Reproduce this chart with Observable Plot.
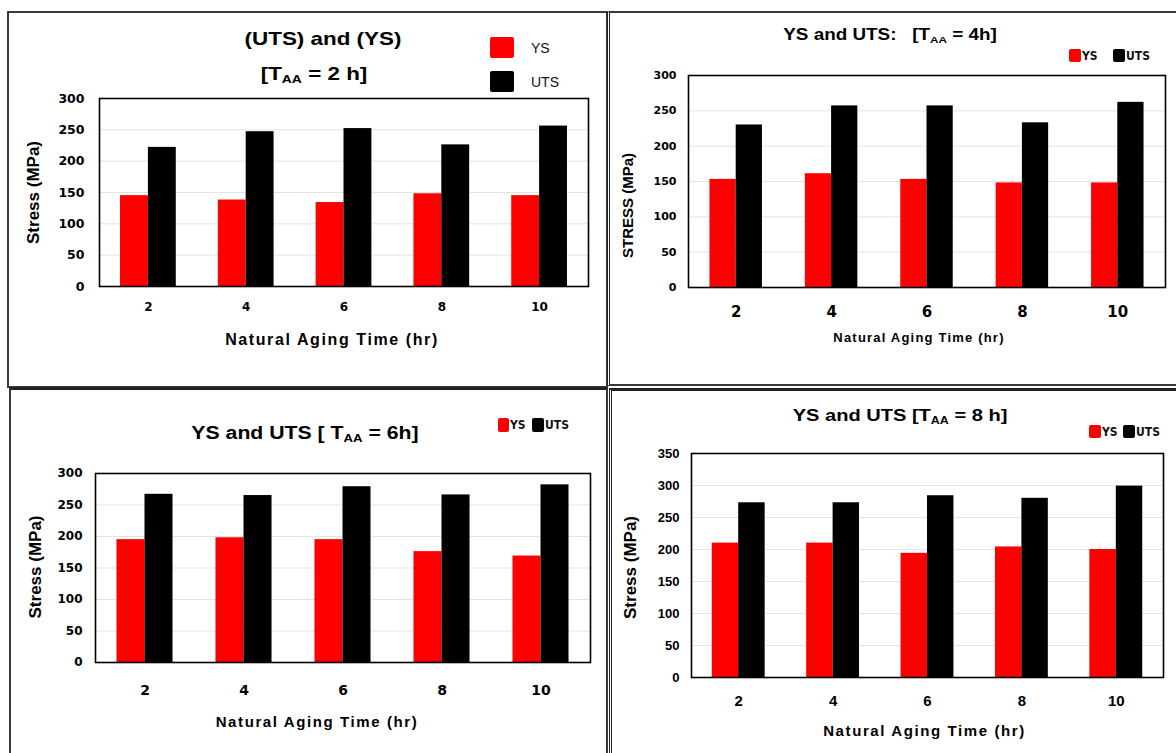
<!DOCTYPE html>
<html><head><meta charset="utf-8">
<script src="https://cdn.jsdelivr.net/npm/d3@7"></script>
<script src="https://cdn.jsdelivr.net/npm/@observablehq/plot@0.6"></script>
<style>
body{margin:0;background:#fff;}
#page{position:relative;width:1176px;height:753px;overflow:hidden;background:#fff;font-family:"Liberation Sans",Arial,sans-serif;color:#000;}
.panel{position:absolute;box-sizing:border-box;border:2px solid #3a3a3a;}
.title{position:absolute;font-weight:bold;white-space:nowrap;transform:translate(-50%,-50%) scaleX(1.18);line-height:1;}
.title sub{font-size:0.62em;vertical-align:-0.3em;line-height:0;}
.sw{position:absolute;}
.lt{position:absolute;white-space:nowrap;transform:translateY(-50%);line-height:1;}
.chart{position:absolute;overflow:visible;}
</style></head>
<body><div id="page"></div>
<script>
// ---- data ----
const times = ["2", "4", "6", "8", "10"];
const seriesNames = ["YS", "UTS"];
const ys2h  = [145, 138, 134, 148, 145];
const uts2h = [222, 247, 252, 226, 256];
const ys4h  = [153, 161, 153, 148, 148];
const uts4h = [230, 257, 257, 233, 262];
const ys6h  = [195, 198, 195, 176, 169];
const uts6h = [267, 265, 279, 266, 282];
const ys8h  = [210, 210, 194, 204, 200];
const uts8h = [273, 273, 284, 280, 299];
const ticks300 = [0, 50, 100, 150, 200, 250, 300];
const ticks350 = [0, 50, 100, 150, 200, 250, 300, 350];
const xLabel = "Natural Aging Time (hr)";

const page = document.getElementById("page");
const RED = "#ff0000", BLACK = "#000000";
const FONT = "Liberation Sans, Arial, sans-serif";
const WIDE = "DejaVu Sans, Liberation Sans, sans-serif";
const NARROW = '"Liberation Sans Narrow","DejaVu Sans Condensed","Liberation Sans",sans-serif';

function el(tag, cls, style, html) {
  const e = document.createElement(tag);
  if (cls) e.className = cls;
  Object.assign(e.style, style || {});
  if (html != null) e.innerHTML = html;
  page.appendChild(e);
  return e;
}

// panel borders
el("div", "panel", {left: "7px", top: "11px", width: "601px", height: "377px"});
el("div", "panel", {left: "607px", top: "11px", width: "600px", height: "375px", borderLeft: "3px double #222"});
el("div", "panel", {left: "9px", top: "387px", width: "599px", height: "400px", borderTop: "3px solid #222"});
el("div", "panel", {left: "609px", top: "388px", width: "600px", height: "400px", borderLeft: "3px double #222", borderTop: "3px solid #222"});

const panels = [
  {ys: ys2h, uts: uts2h, ticks: ticks300, yLabel: "Stress (MPa)",
   left: 8, top: 85, width: 598, height: 271, ml: 91, mr: 18, mt: 13, mb: 70, pad: 0.43,
   yFont: 12.5, yFam: WIDE, ytp: 15, xFont: 12, xFam: WIDE, xtp: 16, xlFont: 16, xlLs: 1.6, xlDx: -12, xlDy: 53, ylFont: 17, ylDx: -66, ylDy: 0},
  {ys: ys4h, uts: uts4h, ticks: ticks300, yLabel: "STRESS (MPa)",
   left: 608, top: 62, width: 568, height: 290, ml: 80, mr: 11, mt: 13, mb: 65, pad: 0.45,
   yFont: 11, yFam: WIDE, ytp: 12, xFont: 15, xFam: WIDE, xtp: 19, xlFont: 13, xlLs: 1.2, xlDx: -8, xlDy: 50, ylFont: 15, ylDx: -60, ylDy: 24},
  {ys: ys6h, uts: uts6h, ticks: ticks300, yLabel: "Stress (MPa)",
   left: 10, top: 458, width: 597, height: 284, ml: 85, mr: 17, mt: 15, mb: 80, pad: 0.434,
   yFont: 12, yFam: WIDE, ytp: 13, xFont: 14, xFam: WIDE, xtp: 23, xlFont: 15, xlLs: 1.6, xlDx: -26, xlDy: 60, ylFont: 17, ylDx: -60, ylDy: -1},
  {ys: ys8h, uts: uts8h, ticks: ticks350, yLabel: "Stress (MPa)",
   left: 610, top: 440, width: 566, height: 303, ml: 81, mr: 13, mt: 13, mb: 66, pad: 0.44,
   yFont: 13, yFam: FONT, ytp: 12, xFont: 15, xFam: FONT, xtp: 18, xlFont: 15, xlLs: 1.6, xlDx: -3, xlDy: 54, ylFont: 17, ylDx: -61, ylDy: 2}
];

for (const p of panels) {
  const rows = times.flatMap((t, i) => [
    {time: t, series: seriesNames[0], value: p.ys[i]},
    {time: t, series: seriesNames[1], value: p.uts[i]}
  ]);
  const innerW = p.width - p.ml - p.mr;
  const step = innerW / times.length;
  const bw = step * (1 - p.pad);
  const yMax = p.ticks[p.ticks.length - 1];
  const svg = Plot.plot({
    width: p.width, height: p.height,
    marginLeft: p.ml, marginRight: p.mr, marginTop: p.mt, marginBottom: p.mb,
    style: {background: "transparent", fontFamily: FONT, overflow: "visible", color: "#000"},
    x: {domain: times, paddingInner: p.pad, paddingOuter: p.pad / 2, round: false, axis: null},
    y: {domain: [0, yMax], axis: null},
    marks: [
      Plot.gridY(p.ticks, {stroke: "#e3e3e3", strokeOpacity: 1}),
      Plot.barY(rows.filter(d => d.series === "YS"), {x: "time", y: "value", fill: RED, insetRight: bw / 2}),
      Plot.barY(rows.filter(d => d.series === "UTS"), {x: "time", y: "value", fill: BLACK, insetLeft: bw / 2}),
      Plot.frame({stroke: "#000", strokeWidth: 1.6}),
      Plot.axisY(p.ticks, {tickSize: 0, tickPadding: p.ytp, fontSize: p.yFont, fontWeight: "bold", fontFamily: p.yFam, label: null}),
      Plot.axisX({tickSize: 0, tickPadding: p.xtp, fontSize: p.xFont, fontWeight: "bold", fontFamily: p.xFam, label: null}),
      Plot.text([xLabel], {text: d => d, frameAnchor: "bottom", textAnchor: "middle", lineAnchor: "middle", dx: p.xlDx, dy: p.xlDy, fontSize: p.xlFont, fontWeight: "bold", fontFamily: FONT}),
      Plot.text([p.yLabel], {text: d => d, frameAnchor: "left", textAnchor: "middle", lineAnchor: "middle", rotate: -90, dx: p.ylDx, dy: p.ylDy, fontSize: p.ylFont, fontWeight: "bold", fontFamily: FONT})
    ]
  });
  svg.classList.add("chart");
  svg.style.left = p.left + "px";
  svg.style.top = p.top + "px";
  const labels = svg.querySelectorAll('g[aria-label="text"] text');
  if (labels[0]) labels[0].style.letterSpacing = p.xlLs + "px";
  page.appendChild(svg);
}

// titles
el("div", "title", {left: "323px", top: "38px", fontSize: "19px"}, "(UTS) and (YS)");
el("div", "title", {left: "314px", top: "73px", fontSize: "19px"}, "[T<sub>AA</sub> = 2 h]");
el("div", "title", {left: "890px", top: "35px", fontSize: "16px"}, "YS and UTS:&nbsp;&nbsp; [T<sub>AA</sub> = 4h]");
el("div", "title", {left: "305px", top: "433px", fontSize: "18px"}, "YS and UTS [ T<sub>AA</sub> = 6h]");
el("div", "title", {left: "900px", top: "415px", fontSize: "17px"}, "YS and UTS [T<sub>AA</sub> = 8 h]");

// legends
function legendSmall(items) {
  for (const it of items) {
    el("div", "sw", {left: it.x + "px", top: it.y + "px", width: it.w + "px", height: it.h + "px", background: it.color, borderRadius: "2px"});
    el("div", "lt", {left: it.tx + "px", top: (it.y + it.h / 2) + "px", fontSize: it.fs + "px", fontWeight: it.bold ? "bold" : "normal", fontFamily: it.font, color: "#111"}, it.name);
  }
}
legendSmall([
  {name: seriesNames[0], color: RED, x: 490, y: 37, w: 24, h: 21, tx: 531, fs: 14, bold: false, font: FONT},
  {name: seriesNames[1], color: BLACK, x: 490, y: 71, w: 24, h: 21, tx: 531, fs: 14, bold: false, font: FONT},
  {name: seriesNames[0], color: RED, x: 1069, y: 49, w: 12, h: 13, tx: 1082, fs: 12, bold: true, font: NARROW},
  {name: seriesNames[1], color: BLACK, x: 1113, y: 49, w: 12, h: 13, tx: 1126, fs: 12, bold: true, font: NARROW},
  {name: seriesNames[0], color: RED, x: 498, y: 418, w: 11, h: 14, tx: 510, fs: 12, bold: true, font: NARROW},
  {name: seriesNames[1], color: BLACK, x: 532, y: 418, w: 12, h: 14, tx: 545, fs: 12, bold: true, font: NARROW},
  {name: seriesNames[0], color: RED, x: 1089, y: 425, w: 12, h: 13, tx: 1102, fs: 12, bold: true, font: NARROW},
  {name: seriesNames[1], color: BLACK, x: 1123, y: 425, w: 12, h: 13, tx: 1136, fs: 12, bold: true, font: NARROW}
]);
</script>
</body></html>
